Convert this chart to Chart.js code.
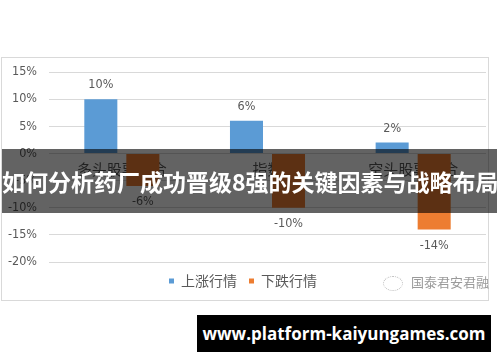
<!DOCTYPE html>
<html>
<head>
<meta charset="utf-8">
<script src="https://cdn.jsdelivr.net/npm/chart.js@4"></script>
<style>
  html, body { margin: 0; padding: 0; background: #fff; }
  body { width: 500px; height: 362px; position: relative; overflow: hidden; font-family: "Noto Sans CJK SC", sans-serif; }
  #frame { position: absolute; left: 1px; top: 57px; width: 486px; height: 242px; border: 1px solid #D9D9D9; }
  #wrap { position: absolute; left: 0; top: 0; width: 500px; height: 300px; }
  #banner { position: absolute; left: 2px; top: 149px; width: 495px; height: 64px; background: rgba(0,0,0,0.61);
    color: #fff; font-weight: bold; font-size: 23px; line-height: 64px; text-align: center; white-space: nowrap; letter-spacing: 0px; }
  #foot { position: absolute; left: 197px; top: 315px; width: 294px; height: 37px; background: #000; color: #fff;
    font-family: "Open Sans", "DejaVu Sans", sans-serif; font-weight: bold; font-size: 17px; line-height: 37px; text-align: center; white-space: nowrap; }
  #wm { position: absolute; left: 383px; top: 273px; color: #9a9a9a; font-size: 13px; line-height: 18px; white-space: nowrap; }
  #wm .ic { display: inline-block; width: 18px; height: 13px; border: 1px dotted #bbb; border-radius: 50%; vertical-align: middle; margin-right: 8px; }
</style>
</head>
<body>
<div id="frame"></div>
<div id="wrap"><canvas id="c" width="500" height="300"></canvas></div>
<div id="wm"><span class="ic"></span>国泰君安君融</div>
<div id="banner">如何分析药厂成功晋级8强的关键因素与战略布局</div>
<div id="foot">www.platform-kaiyungames.com</div>
<script>
const categories = ["多头股票组合", "指数", "空头股票组合"];
const seriesNames = ["上涨行情", "下跌行情"];
const upValues = [10, 6, 2];
const downValues = [-6, -10, -14];
const yTicks = [15, 10, 5, 0, -5, -10, -15, -20];

const numFont = '"Liberation Sans Narrow", "DejaVu Sans Condensed", sans-serif';

const labelPlugin = {
  id: 'dataLabels',
  afterDatasetsDraw(chart) {
    const ctx = chart.ctx;
    ctx.save();
    ctx.font = '12.5px ' + numFont;
    ctx.fillStyle = '#595959';
    ctx.textAlign = 'center';
    ctx.textBaseline = 'middle';
    chart.data.datasets.forEach((ds, di) => {
      const meta = chart.getDatasetMeta(di);
      meta.data.forEach((el, i) => {
        const v = ds.data[i];
        const y = v >= 0 ? el.y - 14 : el.y + 16;
        ctx.fillText(v + '%', el.x, y);
      });
    });
    ctx.restore();
  }
};

new Chart(document.getElementById('c'), {
  type: 'bar',
  data: {
    labels: categories,
    datasets: [
      { label: seriesNames[0], data: upValues, backgroundColor: '#5B9BD5', categoryPercentage: 0.577, barPercentage: 0.786 },
      { label: seriesNames[1], data: downValues, backgroundColor: '#ED7D31', categoryPercentage: 0.577, barPercentage: 0.786 }
    ]
  },
  options: {
    responsive: false,
    animation: false,
    devicePixelRatio: 1,
    layout: { padding: { left: 0, right: 14, top: 72, bottom: 2 } },
    plugins: {
      tooltip: { enabled: false },
      legend: {
        position: 'bottom',
        labels: {
          boxWidth: 5, boxHeight: 5, padding: 12,
          color: '#595959',
          font: { size: 14, family: '"Noto Sans CJK SC", sans-serif' }
        }
      }
    },
    scales: {
      x: {
        position: { y: 0 },
        grid: { display: false, drawTicks: false },
        border: { display: false },
        ticks: { color: '#595959', padding: 7, font: { size: 15, family: '"Noto Sans CJK SC", sans-serif' } }
      },
      y: {
        min: -20, max: 15,
        afterBuildTicks(scale) { scale.ticks = yTicks.map(v => ({ value: v })); },
        afterFit(scale) { scale.width = 49; },
        grid: { color: '#D9D9D9', drawTicks: false },
        border: { display: false },
        ticks: {
          color: '#595959', padding: 12,
          font: { size: 12.5, family: numFont },
          callback: v => v + '%'
        }
      }
    }
  },
  plugins: [labelPlugin]
});
</script>
</body>
</html>
